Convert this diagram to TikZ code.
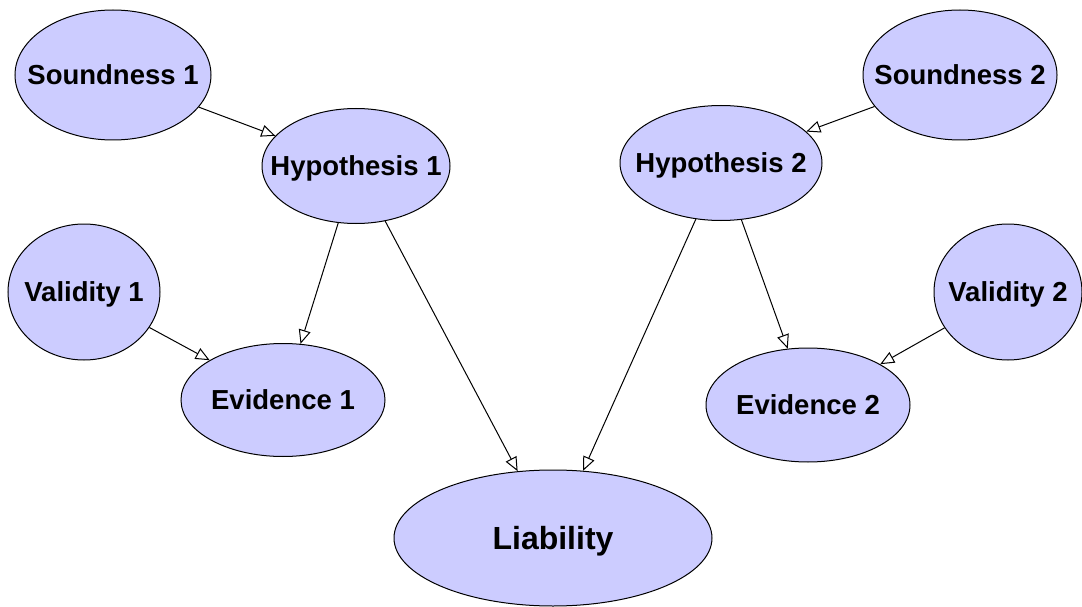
\documentclass[tikz,border=0pt]{standalone}
\usepackage{fontspec}
\setmainfont{Liberation Sans}
\usetikzlibrary{shapes.geometric,arrows.meta}
\definecolor{varfill}{HTML}{CCCCFF}
\begin{document}
\begin{tikzpicture}[x=1pt,y=-1pt,
  var/.style={ellipse, draw=black, line width=1pt, fill=varfill, inner sep=0pt,
    font=\bfseries\fontsize{27.5}{30}\selectfont, text height=19.8pt, text depth=0pt},
  bigvar/.style={var, font=\bfseries\fontsize{32}{36}\selectfont, text height=23pt},
  link/.style={draw=black, line width=1pt,
    -{Triangle[length=14pt,width=12pt,fill=white,line width=1pt]}}]
  \useasboundingbox[fill=white] (0,0) rectangle (1082,607);

  % variables of the network
  \node[var, minimum width=196pt, minimum height=130pt] (s1) at (113,75) {\makebox[0pt]{Soundness 1}};
  \node[var, minimum width=188pt, minimum height=115pt] (h1) at (356,166) {\makebox[0pt]{Hypothesis 1}};
  \node[var, minimum width=152pt, minimum height=136pt] (v1) at (84,292) {\makebox[0pt]{Validity 1}};
  \node[var, minimum width=204pt, minimum height=113pt] (e1) at (283,400) {\makebox[0pt]{Evidence 1}};
  \node[bigvar, minimum width=318pt, minimum height=136pt] (lia) at (553,538) {\makebox[0pt]{Liability}};
  \node[var, minimum width=202pt, minimum height=115pt] (h2) at (721,163) {\makebox[0pt]{Hypothesis 2}};
  \node[var, minimum width=194pt, minimum height=130pt] (s2) at (960,75) {\makebox[0pt]{Soundness 2}};
  \node[var, minimum width=148pt, minimum height=136pt] (v2) at (1008,292) {\makebox[0pt]{Validity 2}};
  \node[var, minimum width=204pt, minimum height=114pt] (e2) at (808,405) {\makebox[0pt]{Evidence 2}};

  % dependencies
  \draw[link] (s1) -- (h1);
  \draw[link] (h1) -- (e1);
  \draw[link] (v1) -- (e1);
  \draw[link] (h1) -- (lia);
  \draw[link] (h2) -- (lia);
  \draw[link] (s2) -- (h2);
  \draw[link] (h2) -- (e2);
  \draw[link] (v2) -- (e2);
\end{tikzpicture}
\end{document}
